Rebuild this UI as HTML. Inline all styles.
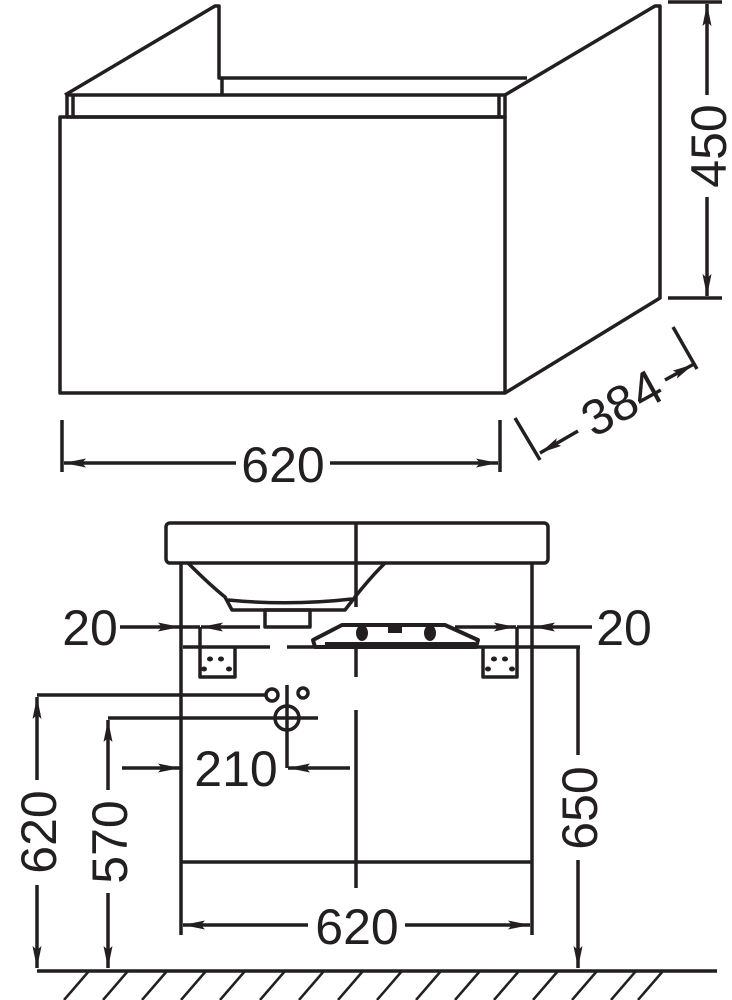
<!DOCTYPE html>
<html><head><style>
html,body{margin:0;padding:0;background:#fff;}
svg{display:block;}
text{font-family:"Liberation Sans",Arial,sans-serif;font-size:50px;fill:#231f20;}
</style></head><body>
<svg width="732" height="1000" viewBox="0 0 732 1000" xmlns="http://www.w3.org/2000/svg">
<defs>
<marker id="a" markerWidth="22" markerHeight="9" refX="22" refY="4.5" orient="auto" markerUnits="userSpaceOnUse">
<path d="M0,0 L22,4.5 L0,9 L4,4.5 Z" fill="#231f20"/></marker>
</defs>
<g fill="none" stroke="#231f20" stroke-width="3.5" stroke-linejoin="round">
<rect x="60" y="117" width="445" height="276"/>
<rect x="67" y="95" width="438" height="22"/>
<line x1="73" y1="95" x2="73" y2="117"/>
<line x1="499" y1="95" x2="499" y2="117"/>
<polyline points="65,95 215,6 219,6 219,78 527,78"/>
<line x1="222" y1="78" x2="222" y2="95"/>
<polyline points="505,95 655,6 660,6 660,298 505,393"/>
<line x1="668" y1="2" x2="722" y2="2"/>
<line x1="668" y1="298" x2="722" y2="298"/>
<line x1="707" y1="95" x2="707" y2="4" marker-end="url(#a)"/>
<line x1="707" y1="197" x2="707" y2="296" marker-end="url(#a)"/>
<line x1="515" y1="418" x2="540" y2="460"/>
<line x1="673" y1="327" x2="697" y2="369"/>
<line x1="578" y1="431" x2="540" y2="453" marker-end="url(#a)"/>
<line x1="665" y1="380" x2="694" y2="364" marker-end="url(#a)"/>
<line x1="62" y1="420" x2="62" y2="472"/>
<line x1="500" y1="420" x2="500" y2="472"/>
<line x1="236" y1="463" x2="64" y2="463" marker-end="url(#a)"/>
<line x1="330" y1="463" x2="498" y2="463" marker-end="url(#a)"/>
<rect x="166" y="523" width="382" height="40" rx="4"/>
<path d="M188,563 Q210,585 225,597 L232,610 L345,610 L355,597 Q370,578 385,563"/>
<path d="M228,600 Q290,606 352,599"/>
<rect x="265" y="610" width="45" height="17"/>
<line x1="356" y1="523" x2="356" y2="607"/>
<line x1="356" y1="645" x2="356" y2="677"/>
<line x1="356" y1="710" x2="356" y2="888"/>
<line x1="181" y1="563" x2="181" y2="935"/>
<line x1="532" y1="563" x2="532" y2="935"/>
<line x1="181" y1="862" x2="532" y2="862"/>
<line x1="183" y1="647" x2="270" y2="647"/>
<line x1="287" y1="647" x2="580" y2="647"/>
<polyline points="200,627 200,677 235,677 235,647"/>
<polyline points="517,627 517,677 483,677 483,647"/>
<line x1="120" y1="627" x2="180" y2="627" marker-end="url(#a)"/>
<line x1="260" y1="627" x2="201" y2="627" marker-end="url(#a)"/>
<line x1="455" y1="627" x2="516" y2="627" marker-end="url(#a)"/>
<line x1="592" y1="627" x2="533" y2="627" marker-end="url(#a)"/>
<line x1="517" y1="627" x2="532" y2="627"/>
<line x1="181" y1="627" x2="200" y2="627"/>
<path d="M313,640 L342,625 L445,625 L478,640 L476,647 L315,647 Z" stroke-width="4"/>
<line x1="325" y1="645" x2="475" y2="645" stroke-width="6"/>
<circle cx="272" cy="695" r="6"/>
<circle cx="303" cy="693" r="5"/>
<circle cx="287" cy="718" r="12"/>
<line x1="287" y1="685" x2="287" y2="768"/>
<line x1="108" y1="718" x2="318" y2="718"/>
<line x1="37" y1="695" x2="266" y2="695"/>
<line x1="122" y1="768" x2="180" y2="768" marker-end="url(#a)"/>
<line x1="350" y1="768" x2="288" y2="768" marker-end="url(#a)"/>
<line x1="37" y1="780" x2="37" y2="697" marker-end="url(#a)"/>
<line x1="37" y1="885" x2="37" y2="968" marker-end="url(#a)"/>
<line x1="108" y1="790" x2="108" y2="720" marker-end="url(#a)"/>
<line x1="108" y1="893" x2="108" y2="968" marker-end="url(#a)"/>
<line x1="578" y1="647" x2="578" y2="755"/>
<line x1="578" y1="860" x2="578" y2="968" marker-end="url(#a)"/>
<line x1="308" y1="925" x2="183" y2="925" marker-end="url(#a)"/>
<line x1="405" y1="925" x2="530" y2="925" marker-end="url(#a)"/>
<line x1="37" y1="971" x2="717" y2="971"/>
<g stroke-width="2.5">
<line x1="89" y1="971" x2="64" y2="1000"/><line x1="128" y1="971" x2="103" y2="1000"/>
<line x1="167" y1="971" x2="142" y2="1000"/><line x1="206" y1="971" x2="181" y2="1000"/>
<line x1="245" y1="971" x2="220" y2="1000"/><line x1="285" y1="971" x2="260" y2="1000"/>
<line x1="324" y1="971" x2="299" y2="1000"/><line x1="363" y1="971" x2="338" y2="1000"/>
<line x1="402" y1="971" x2="377" y2="1000"/><line x1="441" y1="971" x2="416" y2="1000"/>
<line x1="480" y1="971" x2="455" y2="1000"/><line x1="519" y1="971" x2="494" y2="1000"/>
<line x1="558" y1="971" x2="533" y2="1000"/><line x1="597" y1="971" x2="572" y2="1000"/>
<line x1="636" y1="971" x2="611" y2="1000"/><line x1="663" y1="971" x2="638" y2="1000"/>
</g>
</g>
<g fill="#231f20">
<ellipse cx="362" cy="633" rx="6" ry="8"/><ellipse cx="430" cy="633" rx="6" ry="8"/>
<rect x="388" y="627" width="14" height="6"/>
<ellipse cx="210" cy="659" rx="3" ry="2.5"/><ellipse cx="221" cy="659" rx="3" ry="2.5"/>
<ellipse cx="204" cy="669" rx="3" ry="2.5"/><ellipse cx="229" cy="669" rx="3" ry="2.5"/>
<ellipse cx="494" cy="659" rx="3" ry="2.5"/><ellipse cx="505" cy="659" rx="3" ry="2.5"/>
<ellipse cx="488" cy="669" rx="3" ry="2.5"/><ellipse cx="512" cy="669" rx="3" ry="2.5"/>
</g>
<text x="283" y="482" text-anchor="middle" font-size="52">620</text>
<text transform="translate(726,146) rotate(-90)" text-anchor="middle" font-size="52">450</text>
<text transform="translate(622,403) rotate(-29)" text-anchor="middle" dominant-baseline="central" font-size="52">384</text>
<text x="90" y="645" text-anchor="middle">20</text>
<text x="624" y="645" text-anchor="middle">20</text>
<text x="236" y="786" text-anchor="middle" font-size="52">210</text>
<text x="357" y="944" text-anchor="middle" font-size="52">620</text>
<text transform="translate(56,832) rotate(-90)" text-anchor="middle" font-size="52">620</text>
<text transform="translate(127,842) rotate(-90)" text-anchor="middle" font-size="52">570</text>
<text transform="translate(597,808) rotate(-90)" text-anchor="middle" font-size="52">650</text>
</svg>
</body></html>
